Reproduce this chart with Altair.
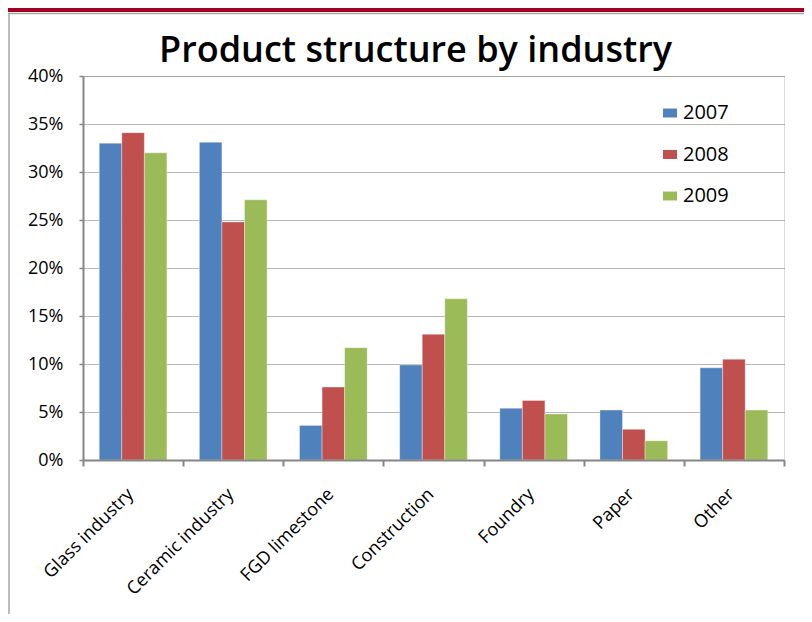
import altair as alt
import pandas as pd

categories = ["Glass industry", "Ceramic industry", "FGD limestone", "Construction",
              "Foundry", "Paper", "Other"]
years = ["2007", "2008", "2009"]
v2007 = [33.0, 33.1, 3.6, 9.9, 5.4, 5.2, 9.6]
v2008 = [34.1, 24.8, 7.6, 13.1, 6.2, 3.2, 10.5]
v2009 = [32.0, 27.1, 11.7, 16.8, 4.8, 2.0, 5.2]
colors = ["#4F81BD", "#C0504D", "#9BBB59"]
y_ticks = [0, 5, 10, 15, 20, 25, 30, 35, 40]

rows = []
for i, c in enumerate(categories):
    for y, vals in zip(years, [v2007, v2008, v2009]):
        rows.append({"category": c, "year": y, "value": vals[i]})
df = pd.DataFrame(rows)

W, H = 701, 384
PL, PT, PR, PB = 75, 68, 20, 154

bars = alt.Chart(df).mark_bar(stroke="white", strokeWidth=1, strokeOpacity=0.35).encode(
    x=alt.X("category:N", sort=categories,
            scale=alt.Scale(paddingInner=0, paddingOuter=0),
            axis=alt.Axis(title=None, labelAngle=-45, labelAlign="right", labelBaseline="top",
                          labelFont="Open Sans", labelFontSize=18, labelColor="black",
                          labelOffset=-9, labelPadding=19,
                          tickBand="extent", tickSize=6, tickColor="#868686", tickWidth=2,
                          domainColor="#868686", domainWidth=2, zindex=1)),
    xOffset=alt.XOffset("year:N", sort=years, scale=alt.Scale(paddingInner=0, paddingOuter=0.72)),
    y=alt.Y("value:Q", scale=alt.Scale(domain=[0, 40], nice=False),
            axis=alt.Axis(title=None, values=y_ticks, labelExpr="datum.value + '%'",
                          labelFont="Open Sans", labelFontSize=18, labelColor="black",
                          labelPadding=16, tickSize=4, tickColor="#868686", tickWidth=1.5,
                          domainColor="#868686", domainWidth=2,
                          grid=True, gridDash=[1, 1], gridColor="#707070", gridWidth=1, zindex=0)),
    color=alt.Color("year:N", sort=years, scale=alt.Scale(domain=years, range=colors),
                    legend=alt.Legend(title=None, orient="none", legendX=577, legendY=27,
                                      labelFont="Open Sans", labelFontSize=20, labelColor="black",
                                      symbolType="M-1,-0.64L1,-0.64L1,0.64L-1,0.64Z",
                                      symbolSize=196, symbolStrokeWidth=0, rowPadding=21.5,
                                      labelOffset=3, padding=0)),
)

one = alt.Data(values=[{"k": 1}])
red_band = alt.Chart(one).mark_rect(color="#A50021").encode(
    x=alt.value(-PL), x2=alt.value(W + PR), y=alt.value(-PT), y2=alt.value(-PT + 4))
top_line = alt.Chart(one).mark_rule(color="#A6A6A6", strokeWidth=1.5).encode(
    x=alt.value(-PL), x2=alt.value(W + PR), y=alt.value(-PT + 5.5))
left_line = alt.Chart(one).mark_rule(color="#A6A6A6", strokeWidth=1.5).encode(
    x=alt.value(-PL + 1), y=alt.value(-PT + 5.5), y2=alt.value(H + PB))

chart = alt.layer(bars, red_band, top_line, left_line).properties(
    width=W, height=H,
    title=alt.TitleParams("Product  structure by industry", font="Open Sans", fontSize=36,
                          fontWeight=600, color="black", anchor="middle", dx=-18,
                          baseline="alphabetic", offset=0, dy=90),
    autosize=alt.AutoSizeParams(type="none"),
    padding={"left": PL, "top": PT, "right": PR, "bottom": PB},
).configure_view(strokeWidth=0).configure(background="white")

chart.save("out.html", embed_options={"renderer": "svg", "actions": False})
